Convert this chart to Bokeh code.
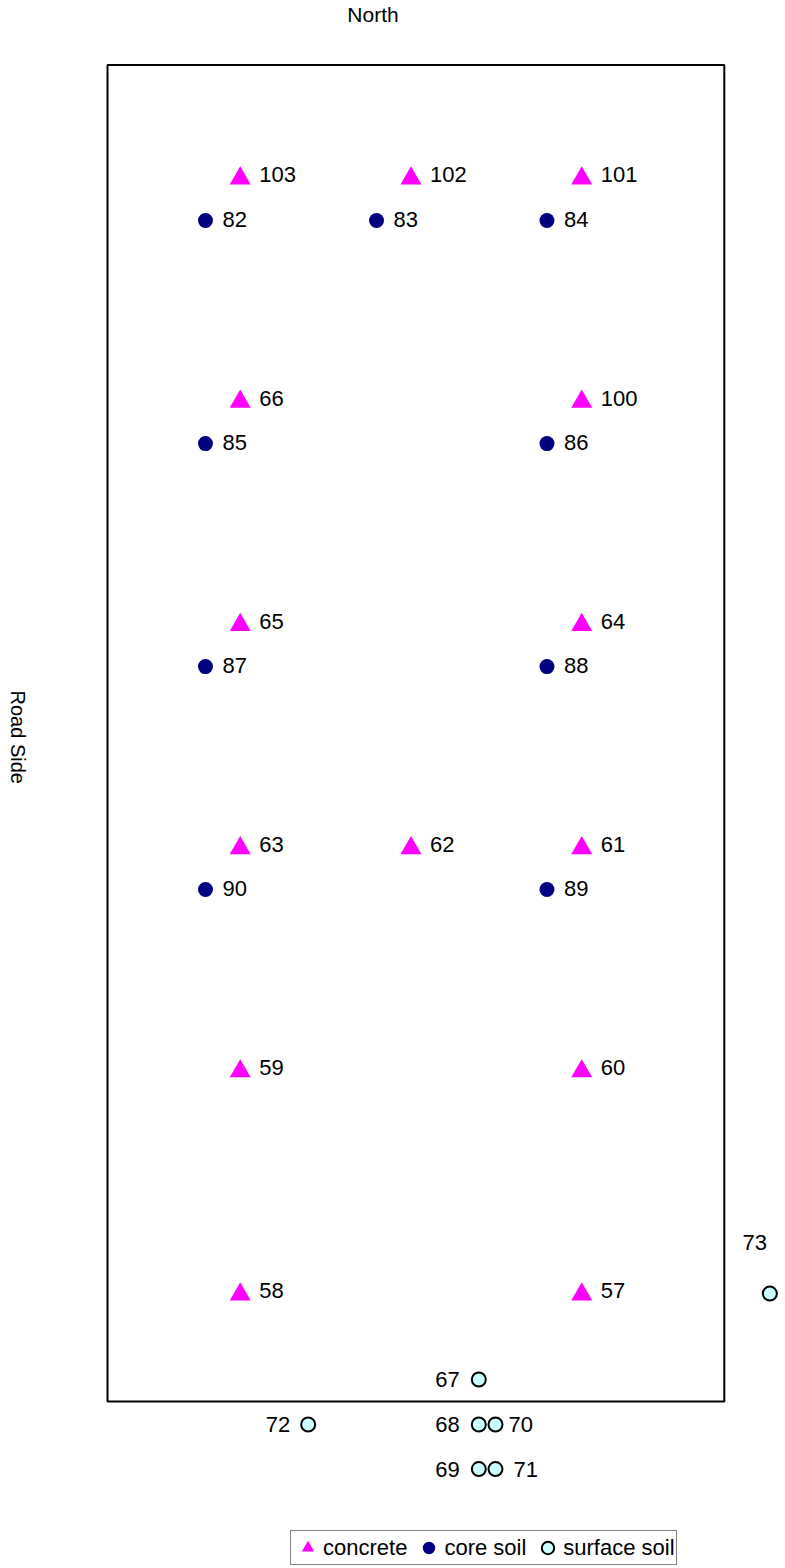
import math
from bokeh.plotting import figure
from bokeh.models import Range1d, Legend, LegendItem, Label, ColumnDataSource
from bokeh.core.properties import value
from bokeh.embed import file_html
from bokeh.resources import INLINE

# ---- data (site plan, feet) ----
building_x = [0, 60]
building_y = [0, 130]

concrete_ids = ["103", "102", "101", "66", "100", "65", "64", "63", "62", "61", "59", "60", "58", "57"]
concrete_x = [12.91, 29.52, 46.13, 12.91, 46.13, 12.91, 46.13, 12.91, 29.52, 46.13, 12.91, 46.13, 12.91, 46.13]
concrete_y = [118.97, 118.97, 118.97, 97.26, 97.26, 75.54, 75.54, 53.83, 53.83, 53.83, 32.12, 32.12, 10.41, 10.41]

core_ids = ["82", "83", "84", "85", "86", "87", "88", "90", "89"]
core_x = [9.53, 26.17, 42.75, 9.53, 42.75, 9.53, 42.75, 9.53, 42.75]
core_y = [114.88, 114.88, 114.88, 93.18, 93.18, 71.49, 71.49, 49.80, 49.80]

surface_ids = ["67", "68", "70", "69", "71", "72", "73"]
surface_x = [36.12, 36.12, 37.74, 36.12, 37.74, 19.52, 64.43]
surface_y = [2.14, -2.24, -2.24, -6.57, -6.57, -2.24, 10.50]

# label placement (layout only)
surface_dx = [-19, -19, 13, -19, 18, -18, -15]
surface_dy = [0, 0, 0, 0, 0, 0, -51]
surface_align = ["right", "right", "left", "right", "left", "right", "center"]

FONT = "Liberation Sans"
FS = "22px"

p = figure(width=785, height=1568,
           x_range=Range1d(-10.409, 65.953), y_range=Range1d(-16.245, 136.284),
           x_axis_type=None, y_axis_type=None,
           output_backend="svg", toolbar_location=None,
           min_border=0, outline_line_color=None)
p.grid.visible = False

p.quad(left=[building_x[0]], right=[building_x[1]], bottom=[building_y[0]], top=[building_y[1]],
       fill_color=None, line_color="black", line_width=2)

r1 = p.scatter(concrete_x, concrete_y, marker="triangle", size=21,
               fill_color="#FF00FF", line_color=None)
r2 = p.scatter(core_x, core_y, marker="circle", size=15,
               fill_color="#000080", line_color=None)
r3 = p.scatter(surface_x, surface_y, marker="circle", size=14,
               fill_color="#CCFFFF", line_color="black", line_width=2)

p.text(x=concrete_x, y=concrete_y, text=concrete_ids, x_offset=19, y_offset=-3.5,
       text_align="left", text_baseline="middle",
       text_font=value(FONT), text_font_size=FS, text_color="black")
p.text(x=core_x, y=core_y, text=core_ids, x_offset=17, y_offset=-1.5,
       text_align="left", text_baseline="middle",
       text_font=value(FONT), text_font_size=FS, text_color="black")

src = ColumnDataSource(dict(x=surface_x, y=surface_y, t=surface_ids,
                            dx=surface_dx, dy=surface_dy, al=surface_align))
p.text(x="x", y="y", text="t", x_offset="dx", y_offset="dy", text_align="al",
       text_baseline="middle", text_font=value(FONT), text_font_size=FS,
       text_color="black", source=src)

p.add_layout(Label(x=25.83, y=134.9, text="North", text_align="center", text_baseline="middle",
                   text_font=FONT, text_font_size="21px", text_color="black"))
p.add_layout(Label(x=-8.707, y=64.62, text="Road Side", angle=-math.pi / 2,
                   text_align="center", text_baseline="middle",
                   text_font=FONT, text_font_size="20px", text_color="black"))

legend = Legend(items=[LegendItem(label="concrete", renderers=[r1]),
                       LegendItem(label="core soil", renderers=[r2]),
                       LegendItem(label="surface soil", renderers=[r3])],
                orientation="horizontal", location=(290, 3), margin=0,
                padding=1, spacing=6, label_standoff=0,
                glyph_width=31, glyph_height=31,
                label_text_font=FONT, label_text_font_size=FS, label_text_color="black",
                border_line_color="black", border_line_width=1,
                background_fill_color="white", background_fill_alpha=1)
p.add_layout(legend)

open("out.html", "w").write(file_html(p, INLINE, title="Sample locations"))
